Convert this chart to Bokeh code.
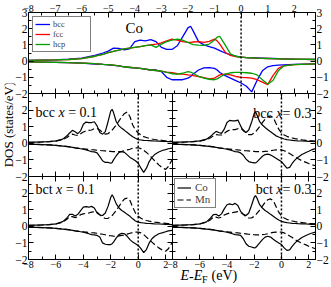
from bokeh.plotting import figure
from bokeh.models import Range1d, LinearAxis, SingleIntervalTicker, Span, Label, Legend, LegendItem
from bokeh.layouts import row, column
from bokeh.embed import file_html
from bokeh.resources import INLINE

# ---------------- data: top panel (pure Co) ----------------
E_top = [-8, -7, -6.5, -6, -5.5, -5.2, -5, -4.8, -4.6, -4.4, -4.2, -4,
         -3.8, -3.6, -3.4, -3.2, -3, -2.8, -2.6, -2.4, -2.2, -2,
         -1.9, -1.8, -1.6, -1.4, -1.2, -1, -0.9, -0.8, -0.6, -0.4, -0.2,
         0, 0.2, 0.4, 0.6, 0.8, 1.0, 1.2, 1.4, 1.6, 2.0, 2.8]
bcc_up = [0.05, 0.08, 0.12, 0.18, 0.35, 0.50, 0.62, 0.80, 0.78, 0.70, 0.75, 1.20,
          1.30, 1.25, 1.32, 1.20, 0.85, 0.72, 0.72, 0.95, 1.50, 2.05,
          2.15, 1.85, 1.20, 1.00, 0.90, 0.80, 0.72, 0.65, 0.50, 0.38, 0.30,
          0.25, 0.22, 0.20, 0.19, 0.18, 0.17, 0.16, 0.15, 0.14, 0.12, 0.10]
fcc_up = [0.05, 0.08, 0.10, 0.15, 0.30, 0.42, 0.52, 0.60, 0.68, 0.75, 0.80, 0.85,
          0.90, 0.95, 1.00, 1.05, 1.12, 1.25, 1.35, 1.30, 1.20, 1.15,
          1.15, 1.18, 1.20, 1.15, 1.22, 1.36, 1.25, 1.05, 0.55, 0.35, 0.28,
          0.25, 0.22, 0.20, 0.18, 0.17, 0.16, 0.15, 0.14, 0.13, 0.12, 0.10]
hcp_up = [0.05, 0.08, 0.10, 0.15, 0.30, 0.42, 0.52, 0.60, 0.68, 0.75, 0.80, 0.85,
          0.90, 0.95, 1.00, 0.85, 1.05, 1.20, 1.30, 1.35, 1.30, 1.15,
          1.08, 1.02, 0.98, 0.97, 1.05, 1.30, 1.48, 1.52, 1.00, 0.45, 0.30,
          0.25, 0.22, 0.20, 0.18, 0.17, 0.16, 0.15, 0.14, 0.13, 0.12, 0.10]
bcc_dn = [-0.05, -0.08, -0.10, -0.12, -0.18, -0.20, -0.23, -0.27, -0.30, -0.35, -0.40, -0.42,
          -0.45, -0.50, -0.55, -0.55, -0.65, -1.00, -1.15, -1.15, -1.15, -1.05,
          -0.95, -0.80, -0.55, -0.42, -0.40, -0.45, -0.55, -0.70, -0.90, -1.05, -1.20,
          -1.35, -1.55, -1.90, -1.20, -0.60, -0.35, -0.28, -0.25, -0.23, -0.20, -0.17]
fcc_dn = [-0.05, -0.08, -0.10, -0.12, -0.16, -0.20, -0.22, -0.25, -0.30, -0.35, -0.38, -0.42,
          -0.45, -0.50, -0.55, -0.58, -0.62, -0.68, -0.72, -0.78, -0.80, -0.85,
          -0.87, -0.90, -0.95, -1.02, -1.10, -1.05, -0.95, -0.85, -0.80, -0.85, -0.95,
          -1.00, -1.02, -1.05, -1.15, -1.30, -1.45, -0.90, -0.45, -0.30, -0.22, -0.17]
hcp_dn = [-0.05, -0.08, -0.10, -0.12, -0.16, -0.20, -0.22, -0.25, -0.30, -0.35, -0.38, -0.42,
          -0.45, -0.50, -0.55, -0.58, -0.62, -0.70, -0.78, -0.80, -0.75, -0.65,
          -0.68, -0.75, -0.95, -1.05, -1.12, -1.15, -1.10, -1.00, -0.80, -0.72, -0.70,
          -0.70, -0.72, -0.75, -0.85, -1.15, -1.42, -1.20, -0.60, -0.30, -0.22, -0.17]

# ---------------- data: alloy panels ----------------
E_low = [-8, -7, -6.5, -6, -5.5, -5.2, -5, -4.8, -4.6, -4.4, -4.2, -4,
         -3.8, -3.6, -3.4, -3.2, -3, -2.8, -2.6, -2.4, -2.2, -2,
         -1.9, -1.8, -1.6, -1.4, -1.2, -1, -0.8, -0.6, -0.4, -0.2,
         0, 0.2, 0.4, 0.6, 0.8, 1.0, 1.2, 1.5, 1.8, 2.0, 2.2, 2.5]

bcc01_co_up = [0.05, 0.08, 0.10, 0.15, 0.25, 0.45, 0.62, 0.78, 0.70, 0.58, 0.75, 1.15,
               1.28, 1.25, 1.25, 1.30, 1.05, 0.65, 0.55, 0.70, 1.30, 1.95,
               2.05, 1.85, 1.30, 1.05, 0.90, 0.78, 0.65, 0.52, 0.40, 0.30,
               0.22, 0.20, 0.18, 0.17, 0.16, 0.15, 0.14, 0.13, 0.12, 0.11, 0.10, 0.10]
bcc01_mn_up = [0.05, 0.08, 0.10, 0.13, 0.22, 0.35, 0.48, 0.55, 0.50, 0.48, 0.58, 0.68,
               0.75, 0.78, 0.80, 0.88, 0.90, 0.80, 0.65, 0.55, 0.58, 0.72,
               0.80, 0.90, 1.10, 1.35, 1.60, 1.80, 1.88, 1.60, 1.10, 0.80,
               0.62, 0.50, 0.40, 0.35, 0.30, 0.26, 0.23, 0.20, 0.17, 0.15, 0.14, 0.12]
bcc01_co_dn = [-0.05, -0.08, -0.10, -0.13, -0.17, -0.20, -0.22, -0.25, -0.28, -0.30, -0.33, -0.36,
               -0.40, -0.45, -0.50, -0.52, -0.58, -0.80, -1.05, -1.15, -1.15, -1.20,
               -1.15, -1.00, -0.75, -0.55, -0.50, -0.55, -0.70, -0.85, -0.95, -1.05,
               -1.20, -1.50, -1.75, -1.50, -1.10, -0.85, -0.68, -0.52, -0.42, -0.38, -0.33, -0.28]
bcc01_mn_dn = [-0.05, -0.08, -0.10, -0.12, -0.16, -0.19, -0.21, -0.24, -0.27, -0.29, -0.31, -0.33,
               -0.35, -0.37, -0.39, -0.40, -0.42, -0.43, -0.45, -0.46, -0.48, -0.49,
               -0.50, -0.50, -0.50, -0.50, -0.48, -0.45, -0.40, -0.36, -0.30, -0.27,
               -0.27, -0.32, -0.42, -0.55, -0.70, -0.88, -1.05, -1.30, -1.50, -1.57, -1.40, -0.95]

bcc03_co_up = [0.05, 0.08, 0.10, 0.15, 0.25, 0.42, 0.58, 0.72, 0.65, 0.60, 0.85, 1.25,
               1.38, 1.35, 1.35, 1.40, 1.05, 0.75, 0.65, 0.80, 1.25, 1.80,
               1.90, 1.70, 1.30, 1.10, 0.95, 0.82, 0.70, 0.58, 0.45, 0.38,
               0.32, 0.26, 0.22, 0.20, 0.18, 0.16, 0.15, 0.14, 0.13, 0.12, 0.11, 0.10]
bcc03_mn_up = [0.05, 0.08, 0.10, 0.13, 0.22, 0.33, 0.45, 0.52, 0.50, 0.50, 0.60, 0.72,
               0.80, 0.82, 0.82, 0.88, 0.90, 0.80, 0.62, 0.52, 0.52, 0.62,
               0.70, 0.80, 1.00, 1.25, 1.45, 1.60, 1.65, 1.55, 1.20, 0.85,
               0.62, 0.50, 0.42, 0.36, 0.32, 0.28, 0.25, 0.21, 0.18, 0.16, 0.15, 0.13]
bcc03_co_dn = [-0.05, -0.08, -0.10, -0.13, -0.17, -0.20, -0.22, -0.25, -0.28, -0.30, -0.33, -0.36,
               -0.40, -0.45, -0.50, -0.52, -0.58, -0.72, -0.95, -1.10, -1.15, -1.18,
               -1.18, -1.12, -0.95, -0.78, -0.68, -0.65, -0.70, -0.80, -0.90, -1.00,
               -1.10, -1.30, -1.50, -1.45, -1.20, -1.00, -0.85, -0.68, -0.55, -0.48, -0.40, -0.32]
bcc03_mn_dn = [-0.05, -0.08, -0.10, -0.12, -0.16, -0.19, -0.21, -0.24, -0.27, -0.29, -0.31, -0.33,
               -0.35, -0.37, -0.39, -0.40, -0.42, -0.43, -0.45, -0.46, -0.48, -0.49,
               -0.50, -0.50, -0.50, -0.50, -0.49, -0.48, -0.45, -0.42, -0.40, -0.38,
               -0.40, -0.45, -0.52, -0.62, -0.72, -0.82, -0.92, -1.05, -1.15, -1.22, -1.28, -1.35]

bct01_co_up = [0.05, 0.08, 0.10, 0.15, 0.28, 0.50, 0.72, 0.72, 0.62, 0.72, 0.95, 1.15,
               1.18, 1.15, 1.20, 1.10, 0.80, 0.68, 0.65, 0.80, 1.20, 1.75,
               1.90, 1.75, 1.35, 1.10, 0.95, 0.85, 0.72, 0.60, 0.45, 0.32,
               0.25, 0.22, 0.20, 0.18, 0.17, 0.16, 0.15, 0.14, 0.13, 0.12, 0.11, 0.10]
bct01_mn_up = [0.05, 0.08, 0.10, 0.14, 0.25, 0.42, 0.58, 0.58, 0.52, 0.58, 0.70, 0.75,
               0.78, 0.80, 0.85, 0.88, 0.85, 0.70, 0.55, 0.47, 0.48, 0.58,
               0.65, 0.75, 0.95, 1.20, 1.45, 1.65, 1.70, 1.55, 1.15, 0.80,
               0.60, 0.48, 0.40, 0.35, 0.31, 0.28, 0.25, 0.22, 0.20, 0.18, 0.16, 0.15]
bct01_co_dn = [-0.05, -0.08, -0.10, -0.13, -0.17, -0.20, -0.22, -0.25, -0.28, -0.30, -0.33, -0.36,
               -0.40, -0.45, -0.50, -0.52, -0.55, -0.65, -1.00, -1.08, -1.10, -1.10,
               -1.05, -0.95, -0.70, -0.50, -0.42, -0.45, -0.60, -0.80, -0.95, -1.05,
               -1.15, -1.35, -1.58, -1.40, -1.00, -0.75, -0.60, -0.45, -0.38, -0.33, -0.28, -0.24]
bct01_mn_dn = [-0.05, -0.08, -0.10, -0.12, -0.16, -0.19, -0.21, -0.24, -0.27, -0.29, -0.31, -0.33,
               -0.35, -0.37, -0.39, -0.40, -0.42, -0.45, -0.48, -0.51, -0.55, -0.57,
               -0.58, -0.60, -0.60, -0.58, -0.55, -0.52, -0.47, -0.42, -0.38, -0.35,
               -0.35, -0.40, -0.50, -0.65, -0.80, -0.95, -1.10, -1.30, -1.45, -1.50, -1.35, -0.95]

bct03_co_up = [0.05, 0.08, 0.10, 0.15, 0.27, 0.50, 0.70, 0.72, 0.62, 0.75, 1.05, 1.30,
               1.35, 1.30, 1.38, 1.25, 0.90, 0.72, 0.65, 0.80, 1.25, 1.75,
               1.85, 1.70, 1.30, 1.10, 0.95, 0.85, 0.72, 0.60, 0.48, 0.38,
               0.30, 0.25, 0.22, 0.20, 0.18, 0.17, 0.16, 0.15, 0.14, 0.13, 0.12, 0.12]
bct03_mn_up = [0.05, 0.08, 0.10, 0.14, 0.25, 0.40, 0.55, 0.55, 0.50, 0.55, 0.68, 0.75,
               0.80, 0.82, 0.85, 0.88, 0.85, 0.72, 0.58, 0.50, 0.50, 0.60,
               0.68, 0.78, 0.98, 1.22, 1.45, 1.60, 1.65, 1.55, 1.20, 0.85,
               0.62, 0.50, 0.42, 0.36, 0.32, 0.28, 0.25, 0.22, 0.19, 0.17, 0.16, 0.14]
bct03_co_dn = [-0.05, -0.08, -0.10, -0.13, -0.17, -0.20, -0.22, -0.25, -0.28, -0.30, -0.33, -0.36,
               -0.40, -0.45, -0.50, -0.52, -0.55, -0.75, -1.05, -1.20, -1.25, -1.30,
               -1.28, -1.20, -1.00, -0.80, -0.65, -0.60, -0.65, -0.78, -0.90, -1.00,
               -1.10, -1.30, -1.45, -1.42, -1.20, -1.00, -0.85, -0.68, -0.55, -0.48, -0.42, -0.35]
bct03_mn_dn = [-0.05, -0.08, -0.10, -0.12, -0.16, -0.19, -0.21, -0.24, -0.27, -0.29, -0.31, -0.33,
               -0.35, -0.37, -0.39, -0.40, -0.42, -0.44, -0.46, -0.48, -0.50, -0.51,
               -0.52, -0.52, -0.52, -0.50, -0.48, -0.45, -0.40, -0.37, -0.35, -0.34,
               -0.35, -0.40, -0.48, -0.58, -0.68, -0.80, -0.90, -1.02, -1.12, -1.20, -1.27, -1.35]

SERIF = "Liberation Serif"
BLUE, RED, GREEN = "#0000ff", "#ff0000", "#00a000"


def style_axis(ax, interval, show, font_size, hide3):
    ax.ticker = SingleIntervalTicker(interval=interval, num_minor_ticks=2)
    ax.major_tick_in = 5
    ax.major_tick_out = 0
    ax.minor_tick_in = 3
    ax.minor_tick_out = 0
    ax.axis_line_color = "black"
    ax.major_tick_line_color = "black"
    ax.minor_tick_line_color = "black"
    ax.major_label_text_font = SERIF
    if show:
        ax.major_label_text_color = "black"
        ax.major_label_text_font_size = font_size
        ax.major_label_standoff = 1
    else:
        ax.major_label_text_color = None
        ax.major_label_text_font_size = "1px"
        ax.major_label_standoff = 0
    if hide3:
        ax.major_label_overrides = {3: ""}


def make_panel(width, height, xr, yr, borders, xint, show, hide3):
    l, r, t, b = borders
    p = figure(width=width, height=height, x_range=Range1d(*xr), y_range=Range1d(*yr),
               x_axis_location=None, y_axis_location=None,
               output_backend="svg", toolbar_location=None,
               min_border_left=l, min_border_right=r, min_border_top=t, min_border_bottom=b)
    p.grid.visible = False
    p.outline_line_color = None
    p.background_fill_alpha = 0
    p.border_fill_alpha = 0
    for side in ("below", "above", "left", "right"):
        ax = LinearAxis()
        horiz = side in ("below", "above")
        style_axis(ax, xint if horiz else 1, side in show,
                   "10px" if horiz else "11.5px", hide3 and not horiz)
        p.add_layout(ax, side)
    p.add_layout(Span(location=0, dimension="height", line_color="black",
                      line_dash="2 2", line_width=1.5))
    return p


def text_box(width, height):
    # a bare, transparent canvas that only carries text (frame == canvas)
    p = figure(width=width, height=height, x_range=Range1d(0, 1), y_range=Range1d(0, 1),
               x_axis_location=None, y_axis_location=None,
               output_backend="svg", toolbar_location=None, min_border=0)
    p.grid.visible = False
    p.outline_line_color = None
    p.background_fill_alpha = 0
    p.border_fill_alpha = 0
    return p


def add_text_pieces(p, x, y, pieces, align="left", size="14px"):
    # pieces: list of (text, italic, advance_px)
    seq = pieces if align == "left" else list(reversed(pieces))
    sign = 1 if align == "left" else -1
    off = 0
    for txt, ital, w in seq:
        p.add_layout(Label(x=x, y=y, x_units="screen", y_units="screen", x_offset=sign * off,
                           text=txt, text_font=SERIF, text_font_size=size,
                           text_font_style="italic" if ital else "normal",
                           text_align=align, text_baseline="alphabetic", text_color="black"))
        off += w


# ---------------- top panel ----------------
top = make_panel(331, 101, (-8, 2.8), (-2, 3), (28, 14, 12, 8), 1,
                 {"above", "left", "right"}, False)
top.margin = (0, 0, -8, 0)
r_bcc = top.line(E_top, bcc_up, line_color=BLUE, line_width=1.3)
top.line(E_top, bcc_dn, line_color=BLUE, line_width=1.3)
r_fcc = top.line(E_top, fcc_up, line_color=RED, line_width=1.3)
top.line(E_top, fcc_dn, line_color=RED, line_width=1.3)
r_hcp = top.line(E_top, hcp_up, line_color=GREEN, line_width=1.3)
top.line(E_top, hcp_dn, line_color=GREEN, line_width=1.3)
leg = Legend(items=[LegendItem(label="bcc", renderers=[r_bcc]),
                    LegendItem(label="fcc", renderers=[r_fcc]),
                    LegendItem(label="hcp", renderers=[r_hcp])],
             location="top_left", margin=4, padding=2, spacing=0,
             glyph_width=15, glyph_height=8, label_height=8, label_width=35,
             label_standoff=3, label_text_font=SERIF, label_text_font_size="8.5px",
             border_line_color="black", border_line_width=1,
             background_fill_color="white", background_fill_alpha=1)
top.add_layout(leg)
top.add_layout(Label(x=-4.35, y=2.03, text="Co", text_font=SERIF, text_font_size="15px",
                     text_align="left", text_baseline="alphabetic", text_color="black"))


def draw_alloy(p, co_up, co_dn, mn_up, mn_dn):
    rc = p.line(E_low, co_up, line_color="black", line_width=1.2)
    p.line(E_low, co_dn, line_color="black", line_width=1.2)
    rm = p.line(E_low, mn_up, line_color="black", line_width=1.2, line_dash="6 3")
    p.line(E_low, mn_dn, line_color="black", line_width=1.2, line_dash="6 3")
    return rc, rm


XR = (-8, 2.5)
YR = (-2, 3)
mid_left = make_panel(172, 99, XR, YR, (28, 0, 0, 16), 2, {"left"}, True)
mid_right = make_panel(167, 99, XR, YR, (8, 14, 0, 16), 2, {"right"}, True)
mid_right.margin = (0, 0, 0, -8)
bot_left = make_panel(172, 111, XR, YR, (28, 0, 0, 28), 2, {"left", "below"}, True)
bot_right = make_panel(167, 111, XR, YR, (8, 14, 0, 28), 2, {"right", "below"}, True)
bot_right.margin = (0, 0, 0, -8)

draw_alloy(mid_left, bcc01_co_up, bcc01_co_dn, bcc01_mn_up, bcc01_mn_dn)
draw_alloy(mid_right, bcc03_co_up, bcc03_co_dn, bcc03_mn_up, bcc03_mn_dn)
draw_alloy(bot_left, bct01_co_up, bct01_co_dn, bct01_mn_up, bct01_mn_dn)
rc, rm = draw_alloy(bot_right, bct03_co_up, bct03_co_dn, bct03_mn_up, bct03_mn_dn)

leg2 = Legend(items=[LegendItem(label="Co", renderers=[rc]),
                     LegendItem(label="Mn", renderers=[rm])],
              location="top_left", margin=2, padding=2, spacing=0,
              glyph_width=14, glyph_height=9, label_height=9, label_width=18,
              label_standoff=4, label_text_font=SERIF, label_text_font_size="11px",
              border_line_color="black", border_line_width=1,
              background_fill_color="white", background_fill_alpha=1)
bot_right.add_layout(leg2)

add_text_pieces(mid_left, 7, 64, [("bcc", False, 23), ("x", True, 9.7), ("= 0.1", False, 29)])
add_text_pieces(mid_right, 139, 63, [("bcc", False, 23), ("x", True, 9.7), ("= 0.3", False, 29)], align="right")
add_text_pieces(bot_left, 7, 70, [("bct", False, 20.6), ("x", True, 9.7), ("= 0.1", False, 29)])
add_text_pieces(bot_right, 139, 70, [("bct", False, 20.6), ("x", True, 9.7), ("= 0.3", False, 29)], align="right")

# y-axis title on its own transparent strip (overlapping the neighbouring borders)
ytitle = text_box(16, 121)
ytitle.margin = (-10, -16, -12, 0)
ytitle.add_layout(Label(x=8, y=64, x_units="screen", y_units="screen", angle=90, angle_units="deg",
                        text="DOS (states/eV)", text_font=SERIF, text_font_size="13px",
                        text_align="center", text_baseline="middle", text_color="black"))

# x-axis title E-E_F (eV) on its own transparent strip (overlapping the bottom border)
xtitle = text_box(331, 22)
xtitle.margin = (-22, 0, 0, 0)
xl = [("E", True, 0, 0, "14px"), ("-", False, 8.6, 0, "14px"), ("E", True, 13.3, 0, "14px"),
      ("F", False, 21.6, -4, "10px"), ("(eV)", False, 31.0, 0, "14px")]
for txt, ital, dx, dy, fs in xl:
    xtitle.add_layout(Label(x=152, y=12, x_units="screen", y_units="screen", x_offset=dx, y_offset=dy,
                            text=txt, text_font=SERIF, text_font_size=fs,
                            text_font_style="italic" if ital else "normal",
                            text_align="left", text_baseline="alphabetic", text_color="black"))

mid_row = row(ytitle, mid_left, mid_right, margin=(0, 0, -16, 0))
bot_row = row(bot_left, bot_right)
layout = column(top, mid_row, bot_row, xtitle)

open("out.html", "w").write(file_html(layout, INLINE))
